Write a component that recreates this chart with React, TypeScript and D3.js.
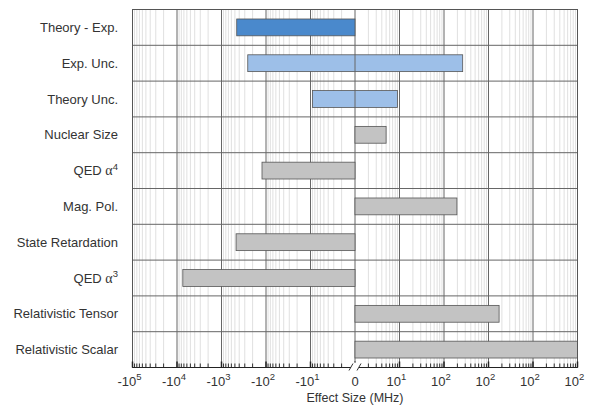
import React from 'react';
import * as d3 from 'd3';

const categories = ['Theory - Exp.', 'Exp. Unc.', 'Theory Unc.', 'Nuclear Size', 'QED \u03b1', 'Mag. Pol.', 'State Retardation', 'QED \u03b1', 'Relativistic Tensor', 'Relativistic Scalar'];
const categorySup = ['', '', '', '', '4', '', '', '3', '', ''];
const barStart = [-455, -257, -9, 0, -123, 0, -470, -7400, 0, 0];
const barEnd = [0, 263, 9, 5, 0, 195, 0, 0, 1730, 100000];
const barKind = ['dark', 'light', 'light', 'gray', 'gray', 'gray', 'gray', 'gray', 'gray', 'gray'];

const tickValues = [-1e5, -1e4, -1e3, -1e2, -1e1, 0, 1e1, 1e2, 1e3, 1e4, 1e5];
const tickBase = ['-10', '-10', '-10', '-10', '-10', '0', '10', '10', '10', '10', '10'];
const tickExp = ['5', '4', '3', '2', '1', '', '1', '2', '2', '2', '2'];

const W = 600, H = 407;
const left = 132.5, right = 577.5, top = 9.5, bottom = 367.5;
const center = (left + right) / 2;

const negScale = d3.scaleLog().domain([1e5, 1]).range([left, center]);
const posScale = d3.scaleLog().domain([1, 1e5]).range([center, right]);
const xs = (v: number) => (Math.abs(v) <= 1 ? center : v < 0 ? negScale(-v) : posScale(v));

const y = d3.scaleBand<string>().domain(categories.map((c, i) => c + i)).range([top, bottom]).paddingInner(0).paddingOuter(0);

const colors: Record<string, string> = { dark: '#4a89cc', light: '#9dbfe8', gray: '#c3c3c3' };

export default function App() {
  const minors: number[] = [];
  for (let d = 0; d < 5; d++) {
    for (let k = 2; k <= 9; k++) {
      minors.push(-k * Math.pow(10, d));
      minors.push(k * Math.pow(10, d));
    }
  }
  const bw = y.bandwidth();
  const barH = bw * 0.47;
  const font = '"Liberation Sans", Arial, Helvetica, sans-serif';
  return (
    <svg width={W} height={H} style={{ position: 'absolute', left: 0, top: 0, background: '#fff' }} fontFamily={font}>
      {minors.map((v, i) => (
        <line key={'m' + i} x1={xs(v)} x2={xs(v)} y1={top} y2={bottom} stroke="#e0e0e0" strokeWidth={1} />
      ))}
      {tickValues.map((v, i) => (
        <line key={'M' + i} x1={xs(v)} x2={xs(v)} y1={top} y2={bottom} stroke="#666" strokeWidth={1} />
      ))}
      {categories.map((c, i) => (
        <line key={'h' + i} x1={left} x2={right} y1={(y(c + i) as number)} y2={(y(c + i) as number)} stroke="#666" strokeWidth={1} />
      ))}
      {categories.map((c, i) => {
        const x0 = xs(barStart[i]);
        const x1 = xs(barEnd[i]);
        const yc = (y(c + i) as number) + bw / 2;
        return (
          <rect key={'b' + i} x={x0} y={yc - barH / 2} width={x1 - x0} height={barH} fill={colors[barKind[i]]} stroke="#555" strokeWidth={0.8} />
        );
      })}
      {categories.map((c, i) => {
        const x0 = xs(barStart[i]);
        const x1 = xs(barEnd[i]);
        const yc = (y(c + i) as number) + bw / 2;
        return x0 < center && x1 > center ? (
          <line key={'z' + i} x1={center} x2={center} y1={yc - barH / 2} y2={yc + barH / 2} stroke="#666" strokeWidth={1} />
        ) : null;
      })}
      <rect x={left} y={top} width={right - left} height={bottom - top} fill="none" stroke="#555" strokeWidth={1} />
      {minors.map((v, i) => (
        <line key={'mt' + i} x1={xs(v)} x2={xs(v)} y1={bottom} y2={bottom - 4} stroke="#333" strokeWidth={1} />
      ))}
      {tickValues.map((v, i) => (
        <line key={'Mt' + i} x1={xs(v)} x2={xs(v)} y1={bottom} y2={bottom - 6} stroke="#222" strokeWidth={1.5} />
      ))}
      <line x1={left} x2={right} y1={bottom} y2={bottom} stroke="#222" strokeWidth={1.2} />
      <rect x={center - 4} y={bottom - 5} width={8} height={9} fill="#fff" />
      <line x1={center - 6} x2={center - 2} y1={bottom + 3} y2={bottom - 4} stroke="#333" strokeWidth={1} />
      <line x1={center + 2} x2={center + 6} y1={bottom + 3} y2={bottom - 4} stroke="#333" strokeWidth={1} />
      {categories.map((c, i) => {
        const yc = (y(c + i) as number) + bw / 2;
        return (
          <text key={'l' + i} x={118} y={yc + 4.5} textAnchor="end" fontSize={13} fill="#333">
            {categorySup[i] ? (
              <>
                {c.slice(0, -1)}
                <tspan fontFamily='"Liberation Serif", "Times New Roman", serif' fontSize={14}>{c.slice(-1)}</tspan>
                <tspan fontSize={9.5} dy={-5.5}>{categorySup[i]}</tspan>
              </>
            ) : c}
          </text>
        );
      })}
      {tickValues.map((v, i) => (
        <text key={'t' + i} x={xs(v) + (tickExp[i] ? -3 : 0)} y={386} textAnchor="middle" fontSize={13} fill="#333">
          {tickBase[i]}
          {tickExp[i] ? <tspan fontSize={9.5} dy={-6}>{tickExp[i]}</tspan> : null}
        </text>
      ))}
      <text x={center} y={402} textAnchor="middle" fontSize={12.5} fill="#333">Effect Size (MHz)</text>
    </svg>
  );
}
